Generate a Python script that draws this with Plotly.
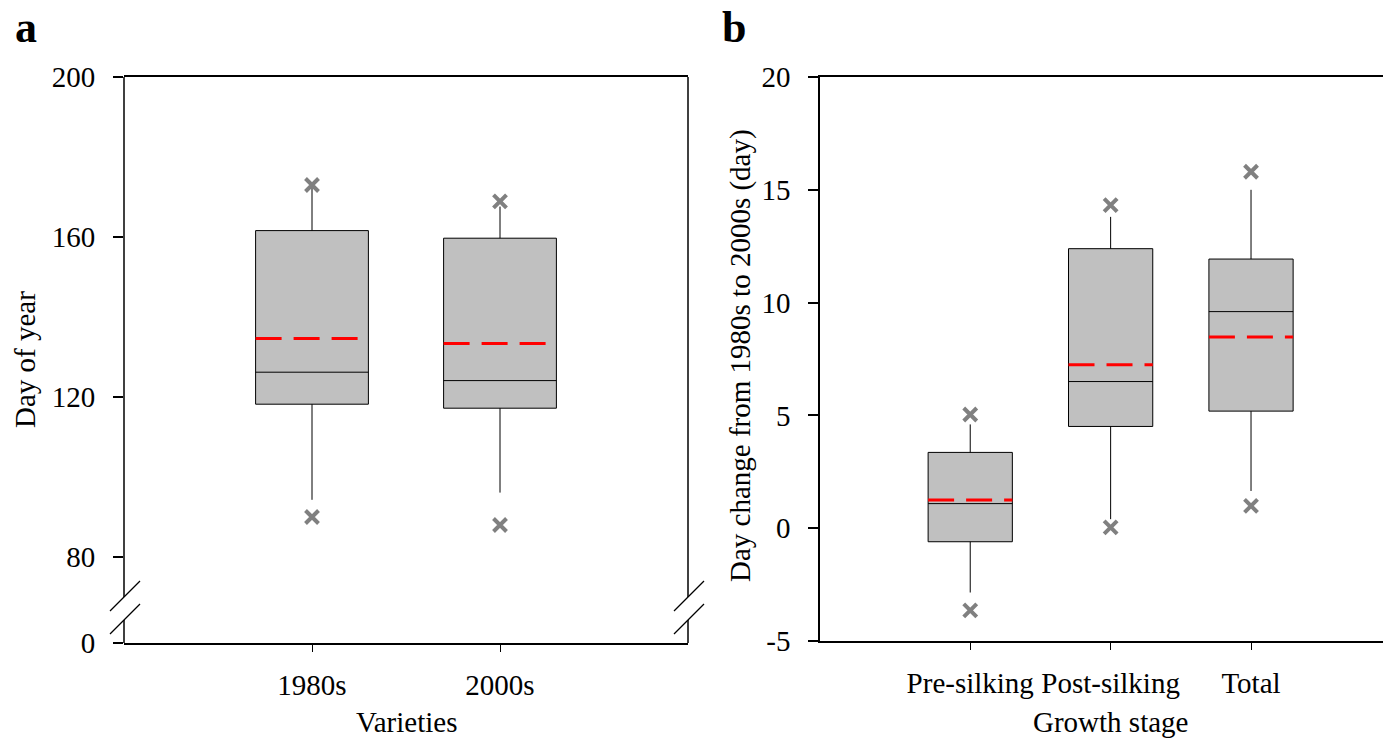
import plotly.graph_objects as go

# ---------------- data ----------------
# Panel a: day of year by variety era
a_cats = ["1980s", "2000s"]
a_q1 = [118.2, 117.2]
a_median = [126.2, 124.1]
a_q3 = [161.6, 159.7]
a_mean = [134.6, 133.4]
a_wlow = [94.3, 96.1]
a_whigh = [172.6, 167.6]
a_p5 = [90.0, 88.0]
a_p95 = [173.0, 168.9]
a_ticks = [0, 80, 120, 160, 200]

# Panel b: day change from 1980s to 2000s by growth stage
b_cats = ["Pre-silking", "Post-silking", "Total"]
b_q1 = [-0.6, 4.51, 5.19]
b_median = [1.09, 6.5, 9.6]
b_q3 = [3.36, 12.39, 11.93]
b_mean = [1.25, 7.24, 8.48]
b_wlow = [-2.85, 0.4, 1.65]
b_whigh = [4.6, 13.8, 15.0]
b_p5 = [-3.64, 0.04, 0.99]
b_p95 = [5.04, 14.32, 15.8]
b_ticks = [-5, 0, 5, 10, 15, 20]

# ---------------- layout constants ----------------
W, H = 1383, 739
FONT = "Liberation Serif, Times New Roman, serif"
FS = 29
BOXW = 0.6

def px_x(p):
    return p / W

def px_y(p):
    return 1 - p / H

# broken axis in panel a: 80..200 linear at 4 px/unit, "0" placed at the bottom edge
A_TOP, A_BOT = 77, 643
A_MAX = 200
A_MIN = A_MAX - (A_BOT - A_TOP) / 4.0   # value at bottom edge (labelled 0)

def a_axis_val(v):
    return A_MIN if v == 0 else v

fig = go.Figure()

# ---------- panel a ----------
for i, c in enumerate(a_cats):
    pos = i + 1
    fig.add_trace(go.Box(
        x=[pos], q1=[a_q1[i]], median=[a_median[i]], q3=[a_q3[i]],
        lowerfence=[a_wlow[i]], upperfence=[a_whigh[i]],
        width=BOXW, whiskerwidth=0, boxpoints=False,
        fillcolor="#c0c0c0", line=dict(color="black", width=1),
        xaxis="x", yaxis="y", showlegend=False, hoverinfo="skip"))
    fig.add_trace(go.Scatter(
        x=[pos - BOXW / 2, pos + BOXW / 2], y=[a_mean[i], a_mean[i]],
        mode="lines", line=dict(color="red", width=3, dash="26px,12px"),
        xaxis="x", yaxis="y", showlegend=False, hoverinfo="skip"))
    fig.add_trace(go.Scatter(
        x=[pos, pos], y=[a_p5[i], a_p95[i]], mode="markers",
        marker=dict(symbol="x-thin", size=13, line=dict(color="#808080", width=4)),
        xaxis="x", yaxis="y", showlegend=False, hoverinfo="skip"))

# ---------- panel b ----------
for i, c in enumerate(b_cats):
    pos = i + 1
    fig.add_trace(go.Box(
        x=[pos], q1=[b_q1[i]], median=[b_median[i]], q3=[b_q3[i]],
        lowerfence=[b_wlow[i]], upperfence=[b_whigh[i]],
        width=BOXW, whiskerwidth=0, boxpoints=False,
        fillcolor="#c0c0c0", line=dict(color="black", width=1),
        xaxis="x2", yaxis="y2", showlegend=False, hoverinfo="skip"))
    fig.add_trace(go.Scatter(
        x=[pos - BOXW / 2, pos + BOXW / 2], y=[b_mean[i], b_mean[i]],
        mode="lines", line=dict(color="red", width=3, dash="26px,12px"),
        xaxis="x2", yaxis="y2", showlegend=False, hoverinfo="skip"))
    fig.add_trace(go.Scatter(
        x=[pos, pos], y=[b_p5[i], b_p95[i]], mode="markers",
        marker=dict(symbol="x-thin", size=13, line=dict(color="#808080", width=4)),
        xaxis="x2", yaxis="y2", showlegend=False, hoverinfo="skip"))

tickfont = dict(family=FONT, size=FS, color="black")

fig.update_layout(
    width=W, height=H,
    margin=dict(l=0, r=0, t=0, b=0, autoexpand=False),
    paper_bgcolor="white", plot_bgcolor="white",
    font=dict(family=FONT, size=FS, color="black"),
    xaxis=dict(
        domain=[px_x(124), px_x(688)], range=[0, 3],
        tickvals=[1, 2], ticktext=a_cats, tickfont=tickfont,
        showline=True, mirror=True, linecolor="black", linewidth=1.5,
        ticks="outside", ticklen=7, tickwidth=1, tickcolor="black",
        showgrid=False, zeroline=False, anchor="y", ticklabelstandoff=8,
        automargin=False),
    yaxis=dict(
        domain=[px_y(A_BOT), px_y(A_TOP)], range=[A_MIN, A_MAX],
        tickvals=[a_axis_val(v) for v in a_ticks], ticktext=[str(v) for v in a_ticks],
        tickfont=tickfont, showline=False,
        ticks="outside", ticklen=10, tickwidth=1.5, tickcolor="black",
        showgrid=False, zeroline=False, anchor="x", ticklabelstandoff=12,
        automargin=False),
    xaxis2=dict(
        domain=[px_x(820), 1.0], range=[-0.07, 3.94],
        tickvals=[1, 2, 3], ticktext=b_cats, tickfont=tickfont,
        showline=True, mirror=True, linecolor="black", linewidth=1.5,
        ticks="outside", ticklen=7, tickwidth=1, tickcolor="black",
        showgrid=False, zeroline=False, anchor="y2", ticklabelstandoff=8,
        automargin=False),
    yaxis2=dict(
        domain=[px_y(641), px_y(77)], range=[-5, 20],
        tickvals=b_ticks, ticktext=[str(v) for v in b_ticks], tickfont=tickfont,
        showline=True, mirror=False, linecolor="black", linewidth=1.5,
        ticks="outside", ticklen=10, tickwidth=1.5, tickcolor="black",
        showgrid=False, zeroline=False, anchor="x2", ticklabelstandoff=12,
        automargin=False),
)

# broken vertical axis lines for panel a (left and right), with break slashes
shapes = []
for xd in [0, 1]:
    shapes.append(dict(type="line", xref="x domain", yref="paper",
                       x0=xd, x1=xd, y0=px_y(A_TOP), y1=px_y(597),
                       line=dict(color="black", width=1.5)))
    shapes.append(dict(type="line", xref="x domain", yref="paper",
                       x0=xd, x1=xd, y0=px_y(620), y1=px_y(A_BOT),
                       line=dict(color="black", width=1.5)))
for xc in [124, 688]:
    for yc in [597, 620]:
        shapes.append(dict(type="line", xref="paper", yref="paper",
                           x0=px_x(xc - 14), y0=px_y(yc + 14),
                           x1=px_x(xc + 16), y1=px_y(yc - 16),
                           line=dict(color="black", width=1.3)))
fig.update_layout(shapes=shapes)

ann = [
    dict(text="<b>a</b>", x=px_x(13), y=px_y(28), xref="paper", yref="paper",
         xanchor="left", yanchor="middle", showarrow=False,
         font=dict(family=FONT, size=44, color="black")),
    dict(text="<b>b</b>", x=px_x(720), y=px_y(28), xref="paper", yref="paper",
         xanchor="left", yanchor="middle", showarrow=False,
         font=dict(family=FONT, size=44, color="black")),
    dict(text="Day of year", x=px_x(25), y=px_y(360), xref="paper", yref="paper",
         xanchor="center", yanchor="middle", textangle=-90, showarrow=False,
         font=dict(family=FONT, size=FS, color="black")),
    dict(text="Day change from 1980s to 2000s (day)", x=px_x(740), y=px_y(356),
         xref="paper", yref="paper", xanchor="center", yanchor="middle",
         textangle=-90, showarrow=False,
         font=dict(family=FONT, size=FS, color="black")),
    dict(text="Varieties", x=px_x(406), y=px_y(722), xref="paper", yref="paper",
         xanchor="center", yanchor="middle", showarrow=False,
         font=dict(family=FONT, size=FS, color="black")),
    dict(text="Growth stage", x=2, y=px_y(722), xref="x2", yref="paper",
         xanchor="center", yanchor="middle", showarrow=False,
         font=dict(family=FONT, size=FS, color="black")),
]
fig.update_layout(annotations=ann)

fig.write_html("out.html")
